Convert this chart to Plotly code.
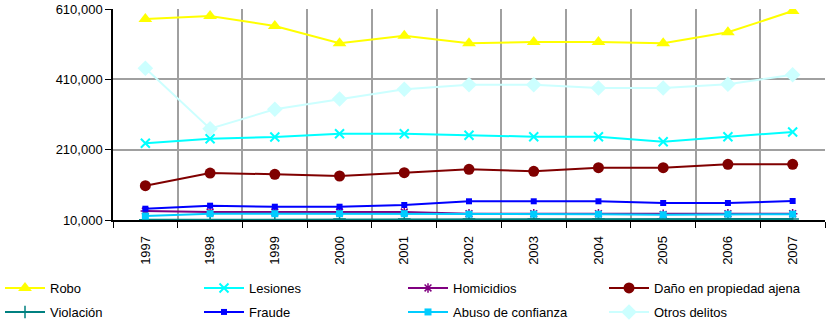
import plotly.graph_objects as go

years = ["1997", "1998", "1999", "2000", "2001", "2002", "2003", "2004", "2005", "2006", "2007"]

robo = [581600, 590100, 561700, 512500, 534000, 512500, 516000, 516000, 512500, 543700, 604300]
lesiones = [228100, 241200, 246000, 255400, 255400, 250800, 246900, 246900, 232600, 246900, 260200]
homicidios = [35600, 32700, 32700, 32700, 32700, 27900, 27900, 27900, 26000, 27900, 27900]
dano = [107500, 143600, 140000, 135100, 144600, 154200, 148500, 158700, 158700, 168400, 168400]
violacion = [10500, 10800, 11000, 13000, 13000, 13000, 13000, 13000, 13000, 13000, 13000]
fraude = [42100, 50700, 47800, 47800, 52700, 63200, 63200, 63200, 58300, 58300, 64000]
abuso = [21400, 27900, 27900, 27900, 27900, 26500, 26500, 26500, 25000, 26500, 26500]
otros = [441400, 269600, 324800, 354100, 381600, 394800, 394800, 385400, 385400, 395900, 423200]

y_ticks = [10000, 210000, 410000, 610000]

series = [
    ("Robo", robo, "#FFFF00", dict(symbol="triangle-up", size=12)),
    ("Lesiones", lesiones, "#00FFFF", dict(symbol="x-thin", size=9, line=dict(width=2, color="#00FFFF"))),
    ("Homicidios", homicidios, "#800080", dict(symbol="asterisk", size=8, line=dict(width=1.5, color="#800080"))),
    ("Daño en propiedad ajena", dano, "#800000", dict(symbol="circle", size=11)),
    ("Violación", violacion, "#008080", dict(symbol="cross-thin", size=9, line=dict(width=1.5, color="#008080"))),
    ("Fraude", fraude, "#0000FF", dict(symbol="square", size=6)),
    ("Abuso de confianza", abuso, "#00CCFF", dict(symbol="square", size=7)),
    ("Otros delitos", otros, "#CCFFFF", dict(symbol="diamond", size=12)),
]

# legend grid: 4 columns x 2 rows below the plot (pixel positions in the page)
col_x = [0, 199, 403, 604]
row_top = [273, 297]
W, H = 826, 325

fig = go.Figure()
legends = {}
for i, (name, vals, color, marker) in enumerate(series):
    key = "legend" if i == 0 else f"legend{i + 1}"
    fig.add_trace(go.Scatter(
        x=years, y=vals, name=name, mode="lines+markers",
        line=dict(color=color, width=2),
        marker=dict(color=color, **marker),
        legend=key,
    ))
    legends[key] = dict(
        xref="container", x=col_x[i % 4] / W, xanchor="left",
        yref="container", y=(H - row_top[i // 4]) / H, yanchor="top",
        itemwidth=40, font=dict(size=13), bgcolor="rgba(0,0,0,0)",
    )

fig.update_layout(
    width=W, height=H,
    margin=dict(l=113, r=1, t=9, b=105, autoexpand=False),
    paper_bgcolor="white", plot_bgcolor="white",
    font=dict(family="Liberation Sans, Arial, sans-serif", size=13, color="black"),
    showlegend=True,
    **legends,
)

fig.update_xaxes(
    type="category", range=[-0.5, 10.5],
    tickson="boundaries", ticks="outside", ticklen=6, tickcolor="black",
    showgrid=True, gridcolor="#A0A0A0", gridwidth=1.5,
    showline=True, linecolor="black", linewidth=1.5, mirror=False,
    tickangle=-90, tickfont=dict(size=13), ticklabelstandoff=9,
)
fig.update_yaxes(
    range=[10000, 610000], tickvals=y_ticks, tickformat=",",
    ticks="outside", ticklen=6, tickcolor="black",
    showgrid=True, gridcolor="#A0A0A0", gridwidth=1.5,
    showline=True, linecolor="black", linewidth=1.5,
    zeroline=False, tickfont=dict(size=13),
)

fig.write_html("out.html")
